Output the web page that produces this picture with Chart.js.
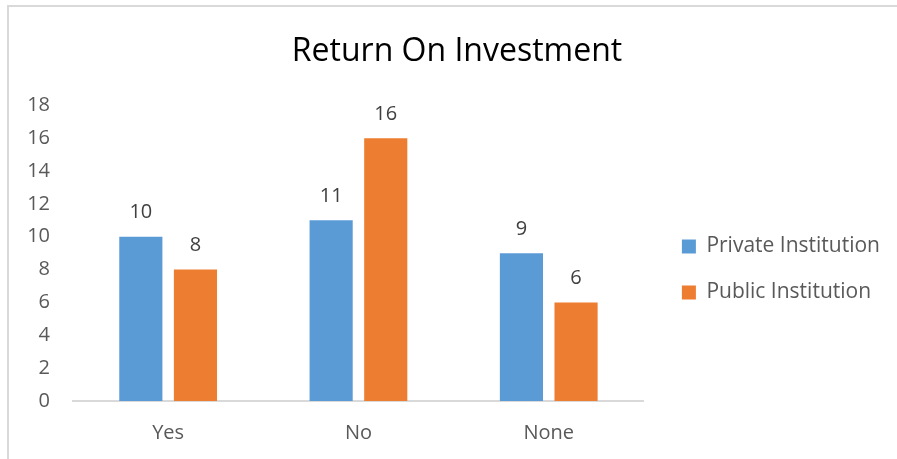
<!DOCTYPE html>
<html lang="en">
<head>
  <meta charset="UTF-8">
  <title>Return On Investment</title>
  <script src="https://cdn.jsdelivr.net/npm/chart.js"></script>
  <style>
    html, body {
      margin: 0;
      padding: 0;
      background: #fff;
    }
    .frame {
      position: relative;
      width: 897px;
      height: 459px;
    }
    .frame::before {
      content: '';
      position: absolute;
      left: 7px;
      top: 5px;
      right: 0;
      bottom: 0;
      border-left: 2px solid #d9d9d9;
      border-top: 2px solid #d9d9d9;
    }
    canvas {
      position: absolute;
      left: 0;
      top: 0;
    }
  </style>
</head>
<body>
  <div class="frame">
    <canvas id="grafico" width="897" height="459"></canvas>
  </div>

  <script>
    const categorias = ['Yes', 'No', 'None'];
    const privada = [10, 11, 9];
    const publica = [8, 16, 6];
    const yTicks = [0, 2, 4, 6, 8, 10, 12, 14, 16, 18];

    const fonte = "'Open Sans', sans-serif";

    // valores em cima das barras
    const rotulos = {
      id: 'rotulos',
      afterDatasetsDraw(chart) {
        const ctx = chart.ctx;
        ctx.save();
        ctx.font = '20px ' + fonte;
        ctx.fillStyle = '#404040';
        ctx.textAlign = 'center';
        ctx.textBaseline = 'middle';
        chart.data.datasets.forEach((ds, i) => {
          chart.getDatasetMeta(i).data.forEach((bar, j) => {
            ctx.fillText(ds.data[j], bar.x, bar.y - 24);
          });
        });
        ctx.restore();
      }
    };

    // eixo invisível usado só como espaço
    function espacador(largura, peso) {
      return {
        type: 'linear',
        position: 'right',
        weight: peso,
        grid: { display: false, drawTicks: false },
        border: { display: false },
        ticks: { display: false },
        afterFit(axis) {
          axis.width = largura;
        }
      };
    }

    new Chart(document.getElementById('grafico'), {
      type: 'bar',
      data: {
        labels: categorias,
        datasets: [
          {
            label: 'Private Institution',
            data: privada,
            backgroundColor: '#5B9BD5',
            categoryPercentage: 0.574,
            barPercentage: 0.79
          },
          {
            label: 'Public Institution',
            data: publica,
            backgroundColor: '#ED7D31',
            categoryPercentage: 0.574,
            barPercentage: 0.79
          }
        ]
      },
      options: {
        responsive: false,
        animation: false,
        layout: {
          padding: { left: 17, right: 0, top: 0, bottom: 1 }
        },
        plugins: {
          title: {
            display: true,
            text: 'Return On Investment',
            color: '#000',
            font: { family: fonte, size: 32, weight: 'normal' },
            padding: { top: 33, bottom: 34 }
          },
          legend: {
            position: 'right',
            maxWidth: 400,
            title: {
              display: true,
              text: ' ',
              font: { family: fonte, size: 20 },
              padding: { top: 57, bottom: 0 }
            },
            labels: {
              boxWidth: 14,
              boxHeight: 14,
              padding: 25,
              color: '#595959',
              font: { family: fonte, size: 21 }
            }
          },
          tooltip: { enabled: false }
        },
        scales: {
          x: {
            grid: { display: false, drawTicks: false },
            border: { color: '#d9d9d9', width: 2 },
            afterFit(axis) {
              axis.height = 57;
            },
            ticks: {
              color: '#595959',
              padding: 20,
              font: { family: fonte, size: 20 }
            }
          },
          y: {
            min: 0,
            max: 18,
            grid: { display: false, drawTicks: false },
            border: { display: false },
            afterBuildTicks(axis) {
              axis.ticks = yTicks.map(v => ({ value: v }));
            },
            afterFit(axis) {
              axis.width = 56;
            },
            ticks: {
              color: '#595959',
              padding: 23,
              font: { family: fonte, size: 20 }
            }
          },
          espaco: espacador(13, 0),
          espacoFim: espacador(7, 2000)
        }
      },
      plugins: [rotulos]
    });
  </script>
</body>
</html>
